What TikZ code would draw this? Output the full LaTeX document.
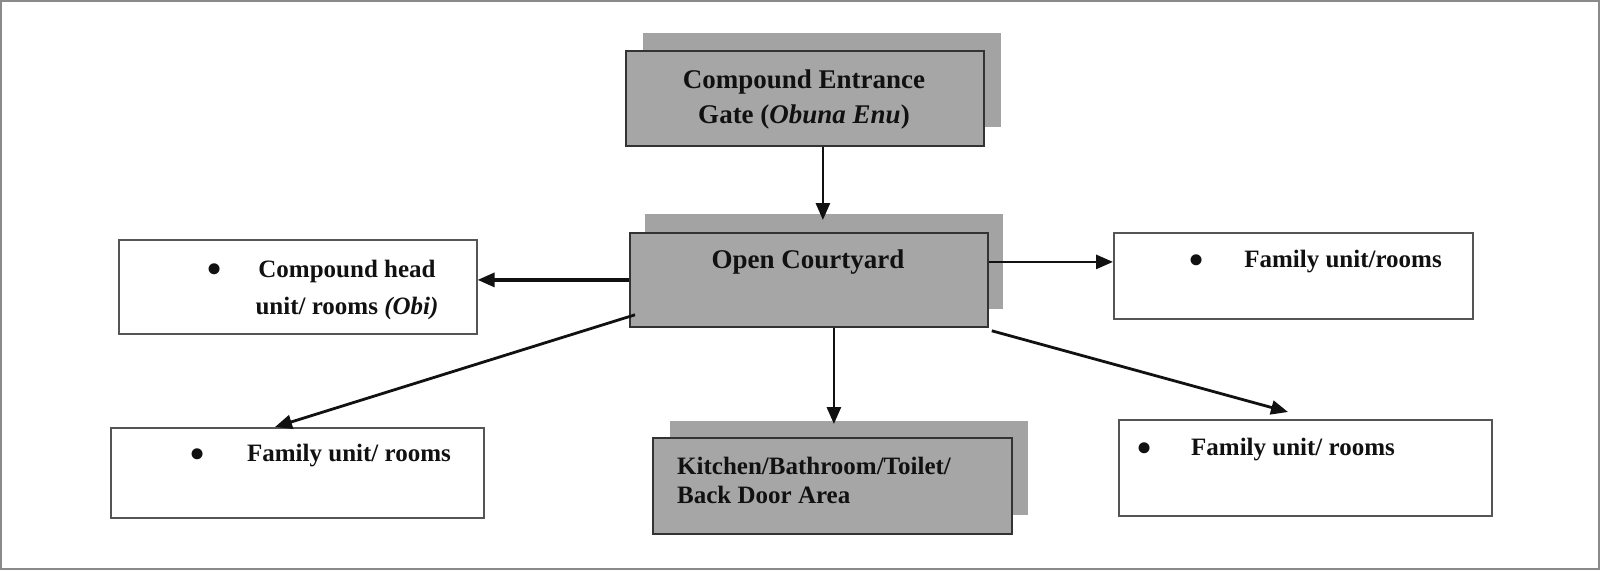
\documentclass[tikz,border=0pt]{standalone}
\usepackage{fontspec}
\setmainfont{Liberation Serif}
\usetikzlibrary{arrows.meta,calc}
\definecolor{boxgray}{HTML}{A6A6A6}
\definecolor{shadgray}{HTML}{A3A3A3}
\definecolor{edgedark}{HTML}{333333}
\definecolor{edgelight}{HTML}{555555}
\definecolor{framecol}{HTML}{8A8A8A}
\definecolor{ink}{HTML}{111111}
\tikzset{
  shadowbox/.style={fill=shadgray, draw=none, anchor=north west, inner sep=0pt},
  graybox/.style={fill=boxgray, draw=edgedark, line width=1.8pt, anchor=north west, inner sep=0pt},
  whitebox/.style={fill=white, draw=edgelight, line width=1.6pt, anchor=north west, inner sep=0pt},
  bigtxt/.style={font=\fontsize{27}{35}\selectfont\bfseries, text=ink, inner sep=0pt},
  txt/.style={font=\fontsize{25}{37}\selectfont\bfseries, text=ink, inner sep=0pt},
  bul/.style={font=\fontsize{46}{50}\selectfont, text=ink, inner sep=0pt, anchor=center},
  arr/.style={draw=ink, line width=2.8pt, -{Triangle[length=17pt,width=14pt]}},
}
\begin{document}
\begin{tikzpicture}[x=1pt,y=-1pt]
\useasboundingbox (0,0) rectangle (1600,570);
\fill[white] (0,0) rectangle (1600,570);
\draw[framecol, line width=2pt] (1,1) rectangle (1599,569);

% shadows
\node[shadowbox, minimum width=358pt, minimum height=94pt] (gateSh) at (643,33) {};
\node[shadowbox, minimum width=358pt, minimum height=95pt] (courtSh) at (645,214) {};
\node[shadowbox, minimum width=358pt, minimum height=94pt] (kitSh) at (670,421) {};

% main boxes
\node[graybox, minimum width=358pt, minimum height=95pt] (gate) at (625,50) {};
\node[graybox, minimum width=358pt, minimum height=94pt] (court) at (629,232) {};
\node[graybox, minimum width=359pt, minimum height=96pt] (kit) at (652,437) {};
\node[whitebox, minimum width=358pt, minimum height=94pt] (head) at (118,239) {};
\node[whitebox, minimum width=359pt, minimum height=86pt] (famTR) at (1113,232) {};
\node[whitebox, minimum width=373pt, minimum height=90pt] (famBL) at (110,427) {};
\node[whitebox, minimum width=373pt, minimum height=96pt] (famBR) at (1118,419) {};

% texts
\node[bigtxt, align=center, anchor=north] (gateT) at (804,70) {Compound Entrance\\Gate (\textit{Obuna Enu})};
\node[bigtxt, anchor=base] (courtT) at (808,268) {Open Courtyard};
\node[txt, align=center, anchor=north] (headT) at (347,260) {Compound head\\unit/ rooms \textit{(Obi)}};
\node[bul] (headB) at (215,274) {•};
\node[txt, anchor=base] (famTRT) at (1343,267) {Family unit/rooms};
\node[bul] (famTRB) at (1197,265) {•};
\node[txt, anchor=base] (famBLT) at (349,461) {Family unit/ rooms};
\node[bul] (famBLB) at (198,459) {•};
\node[txt, anchor=base] (famBRT) at (1293,455) {Family unit/ rooms};
\node[bul] (famBRB) at (1145,453) {•};
\node[font=\fontsize{25}{29}\selectfont\bfseries, text=ink, inner sep=0pt, align=left, anchor=north west] (kitT) at (677,457) {Kitchen/Bathroom/Toilet/\\Back Door Area};

% connectors
\draw[arr, shorten >=-6pt] ([xshift=18pt]gate.south) -- ([xshift=18pt]gate.south |- courtSh.north);
\draw[arr, line width=3.2pt] (court.west) -- (court.west -| head.east);
\draw[arr] ([yshift=18pt]court.east) -- ([yshift=18pt]court.east -| famTR.west);
\draw[arr] ($(court.south west)+(6,-13)$) -- ($(famBL.north west)+(165,0)$);
\draw[arr, shorten >=-3pt] ([xshift=25pt]court.south) -- ([xshift=25pt]court.south |- kitSh.north);
\draw[arr] ($(court.south east)+(3,3)$) -- ($(famBR.north west)+(170,-7)$);
\end{tikzpicture}
\end{document}
